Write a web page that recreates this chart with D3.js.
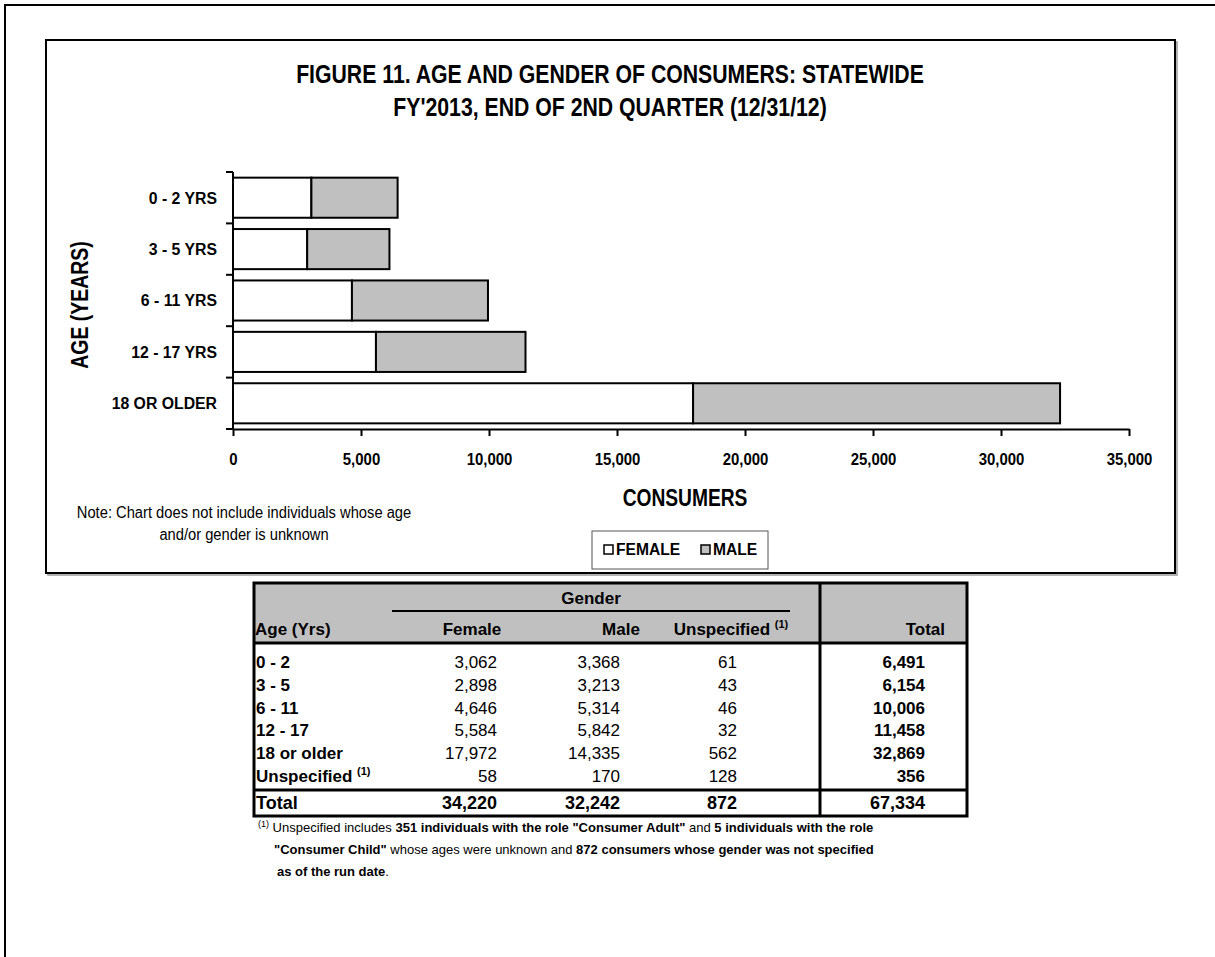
<!DOCTYPE html>
<html>
<head>
<meta charset="utf-8">
<script src="https://cdn.jsdelivr.net/npm/d3@7"></script>
<style>
  body { margin: 0; background: #fff; }
  svg { display: block; }
</style>
</head>
<body>
<div id="chart"></div>
<script>
// chart data
const categories = ["0 - 2 YRS", "3 - 5 YRS", "6 - 11 YRS", "12 - 17 YRS", "18 OR OLDER"];
const female = [3062, 2898, 4646, 5584, 17972];
const male = [3368, 3213, 5314, 5842, 14335];
const xTicks = [0, 5000, 10000, 15000, 20000, 25000, 30000, 35000];
const seriesNames = ["FEMALE", "MALE"];

// table data
const tableAges = ["0 - 2", "3 - 5", "6 - 11", "12 - 17", "18 or older", "Unspecified"];
const tableFemale = [3062, 2898, 4646, 5584, 17972, 58];
const tableMale = [3368, 3213, 5314, 5842, 14335, 170];
const tableUnspec = [61, 43, 46, 32, 562, 128];
const tableTotal = [6491, 6154, 10006, 11458, 32869, 356];
const colTotals = [34220, 32242, 872, 67334];

const FONT = "'Liberation Sans', Arial, sans-serif";
const fmt = d3.format(",");
const colors = { FEMALE: "#ffffff", MALE: "#c0c0c0" };

const W = 1215, H = 957;
const svg = d3.select("#chart").append("svg")
  .attr("width", W).attr("height", H)
  .style("font-family", FONT);

// narrow-looking text: squeeze horizontally around the anchor point
function narrowText(parent, x, y, sx, size, anchor, txt) {
  return parent.append("text")
    .attr("transform", `translate(${x},${y}) scale(${sx},1)`)
    .attr("text-anchor", anchor).attr("font-size", size)
    .attr("font-weight", "bold").text(txt);
}

// outer page border
svg.append("path").attr("d", `M5,${H} V5 H${W}`)
  .attr("fill", "none").attr("stroke", "#000").attr("stroke-width", 2);

// chart box with light shadow
svg.append("rect").attr("x", 48).attr("y", 42).attr("width", 1129).attr("height", 533)
  .attr("fill", "none").attr("stroke", "#999").attr("stroke-width", 1.5);
svg.append("rect").attr("x", 46).attr("y", 40).attr("width", 1129).attr("height", 533)
  .attr("fill", "#fff").attr("stroke", "#000").attr("stroke-width", 2);

// title
narrowText(svg, 610, 83, 0.85, 25, "middle", "FIGURE 11. AGE AND GENDER OF CONSUMERS: STATEWIDE");
narrowText(svg, 610, 116, 0.85, 25, "middle", "FY'2013, END OF 2ND QUARTER (12/31/12)");

// scales
const x = d3.scaleLinear().domain([0, 35000]).range([233, 1129]);
const y = d3.scaleBand().domain(categories).range([172, 429])
  .paddingInner(0.22).paddingOuter(0.11);

// stacked bars
const rows = categories.map((c, i) => ({ cat: c, FEMALE: female[i], MALE: male[i] }));
const stack = d3.stack().keys(seriesNames)(rows);

svg.append("g").selectAll("g").data(stack).join("g")
  .attr("fill", d => colors[d.key])
  .selectAll("rect").data(d => d).join("rect")
  .attr("x", d => x(d[0]))
  .attr("y", d => y(d.data.cat))
  .attr("width", d => x(d[1]) - x(d[0]))
  .attr("height", y.bandwidth())
  .attr("stroke", "#000").attr("stroke-width", 2);

// x axis
const xAxis = svg.append("g").attr("transform", "translate(0,429)")
  .call(d3.axisBottom(x).tickValues(xTicks).tickFormat(fmt).tickSize(7).tickSizeOuter(0).tickPadding(17));
xAxis.select(".domain").attr("stroke-width", 2);
xAxis.selectAll(".tick line").attr("stroke-width", 2);
xAxis.selectAll("text").attr("font-family", FONT).attr("font-size", 17)
  .attr("font-weight", "bold").attr("fill", "#000")
  .attr("transform", "scale(0.88,1)");

// y axis: line, ticks between categories, labels
const yTop = y.range()[0], yBot = y.range()[1];
svg.append("line").attr("x1", x(0)).attr("x2", x(0)).attr("y1", yTop).attr("y2", yBot)
  .attr("stroke", "#000").attr("stroke-width", 2);
svg.append("g").selectAll("line").data(d3.range(categories.length + 1)).join("line")
  .attr("x1", x(0) - 7).attr("x2", x(0))
  .attr("y1", i => yTop + i * y.step()).attr("y2", i => yTop + i * y.step())
  .attr("stroke", "#000").attr("stroke-width", 2);
const yl = svg.append("g");
categories.forEach(c => {
  narrowText(yl, 217, y(c) + y.bandwidth() / 2, 0.93, 17, "end", c).attr("dy", "0.35em");
});

// axis titles
svg.append("text").attr("transform", "translate(88,305) rotate(-90) scale(0.81,1)")
  .attr("text-anchor", "middle").attr("font-size", 24).attr("font-weight", "bold")
  .text("AGE (YEARS)");
narrowText(svg, 685, 506, 0.8, 24, "middle", "CONSUMERS");

// note
const note = svg.append("g").attr("font-size", 16);
note.append("text").attr("transform", "translate(244,518) scale(0.92,1)")
  .attr("text-anchor", "middle").text("Note: Chart does not include individuals whose age");
note.append("text").attr("transform", "translate(244,540) scale(0.92,1)")
  .attr("text-anchor", "middle").text("and/or gender is unknown");

// legend
const lg = svg.append("g");
lg.append("rect").attr("x", 592).attr("y", 531).attr("width", 176).attr("height", 38)
  .attr("fill", "#fff").attr("stroke", "#555").attr("stroke-width", 1);
const li = lg.selectAll("g").data(seriesNames).join("g")
  .attr("transform", (d, i) => `translate(${604 + i * 97},545)`);
li.append("rect").attr("width", 9).attr("height", 9)
  .attr("fill", d => colors[d]).attr("stroke", "#000").attr("stroke-width", 1.5);
li.append("text").attr("transform", "translate(12,4.5) scale(0.92,1)").attr("dy", "0.35em")
  .attr("font-size", 17).attr("font-weight", "bold").text(d => d);

// ---------------- table ----------------
const T = { x0: 254, x1: 967, top: 583, headBot: 643, totTop: 790, bot: 816, split: 820 };
const tb = svg.append("g");
tb.append("rect").attr("x", T.x0).attr("y", T.top).attr("width", T.x1 - T.x0).attr("height", T.headBot - T.top)
  .attr("fill", "#c0c0c0");
tb.append("rect").attr("x", T.x0).attr("y", T.top).attr("width", T.x1 - T.x0).attr("height", T.bot - T.top)
  .attr("fill", "none").attr("stroke", "#000").attr("stroke-width", 3);
[T.headBot, T.totTop].forEach(v => tb.append("line").attr("x1", T.x0).attr("x2", T.x1)
  .attr("y1", v).attr("y2", v).attr("stroke", "#000").attr("stroke-width", 3));
tb.append("line").attr("x1", T.split).attr("x2", T.split).attr("y1", T.top).attr("y2", T.bot)
  .attr("stroke", "#000").attr("stroke-width", 3);
tb.append("line").attr("x1", 392).attr("x2", 790).attr("y1", 611).attr("y2", 611)
  .attr("stroke", "#000").attr("stroke-width", 2);

const th = tb.append("g").attr("font-size", 17).attr("font-weight", "bold");
th.append("text").attr("x", 591).attr("y", 604).attr("text-anchor", "middle").text("Gender");
th.append("text").attr("x", 255).attr("y", 635).text("Age (Yrs)");
th.append("text").attr("x", 472).attr("y", 635).attr("text-anchor", "middle").text("Female");
th.append("text").attr("x", 621).attr("y", 635).attr("text-anchor", "middle").text("Male");
const uh = th.append("text").attr("x", 731).attr("y", 635).attr("text-anchor", "middle");
uh.append("tspan").text("Unspecified ");
uh.append("tspan").attr("font-size", 11).attr("dy", -7).text("(1)");
th.append("text").attr("x", 945).attr("y", 635).attr("text-anchor", "end").text("Total");

const rowY = d3.scaleBand().domain(tableAges).range([651, 787]);
const colX = [497, 620, 737, 925];
const body = tb.append("g").attr("font-size", 17);
const tr = body.selectAll("g").data(tableAges).join("g")
  .attr("transform", d => `translate(0,${rowY(d) + rowY.bandwidth() / 2})`);
tr.append("text").attr("x", 256).attr("dy", "0.35em").attr("font-weight", "bold")
  .each(function (d) {
    const t = d3.select(this);
    if (d === "Unspecified") {
      t.append("tspan").text("Unspecified ");
      t.append("tspan").attr("font-size", 11).attr("dy", -7).text("(1)");
    } else t.text(d);
  });
const cols = [tableFemale, tableMale, tableUnspec, tableTotal];
cols.forEach((arr, c) => {
  tr.append("text").attr("x", colX[c]).attr("dy", "0.35em").attr("text-anchor", "end")
    .attr("font-weight", c === 3 ? "bold" : "normal")
    .text((d, i) => fmt(arr[i]));
});

// totals row
const totY = (T.totTop + T.bot) / 2;
const totRow = tb.append("g").attr("transform", `translate(0,${totY})`)
  .attr("font-size", 18).attr("font-weight", "bold");
totRow.append("text").attr("x", 256).attr("dy", "0.35em").text("Total");
totRow.selectAll("text.v").data(colTotals).join("text").attr("class", "v")
  .attr("x", (d, i) => colX[i]).attr("dy", "0.35em").attr("text-anchor", "end")
  .text(d => fmt(d));

// footnote
const fn = svg.append("g").attr("font-size", 13);
const f1 = fn.append("text").attr("x", 258).attr("y", 832);
f1.append("tspan").attr("font-size", 9).attr("dy", -5).text("(1)");
f1.append("tspan").attr("dy", 5).text(" Unspecified includes ");
f1.append("tspan").attr("font-weight", "bold").text("351 individuals with the role \"Consumer Adult\"");
f1.append("tspan").text(" and ");
f1.append("tspan").attr("font-weight", "bold").text("5 individuals with the role");
const f2 = fn.append("text").attr("x", 274).attr("y", 854);
f2.append("tspan").attr("font-weight", "bold").text("\"Consumer Child\"");
f2.append("tspan").text(" whose ages were unknown and ");
f2.append("tspan").attr("font-weight", "bold").text("872 consumers whose gender was not specified");
const f3 = fn.append("text").attr("x", 277).attr("y", 876);
f3.append("tspan").attr("font-weight", "bold").text("as of the run date");
f3.append("tspan").text(".");
</script>
</body>
</html>
